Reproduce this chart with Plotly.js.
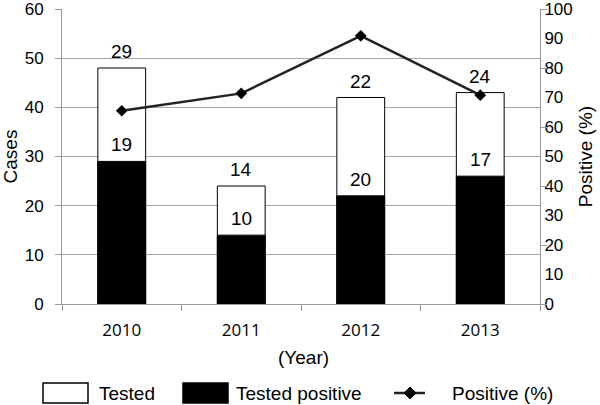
<!DOCTYPE html>
<html>
<head>
<meta charset="utf-8">
<script src="https://cdn.plot.ly/plotly-3.0.1.min.js"></script>
<style>html,body{margin:0;padding:0;background:#fff;}#chart{width:600px;height:405px;}</style>
</head>
<body>
<div id="chart"></div>
<script>
var years = ['2010', '2011', '2012', '2013'];
var tested = [48, 24, 42, 43];
var testedPositive = [29, 14, 22, 26];
var positivePct = [65.5, 71.4, 90.9, 70.8];
var upperLabels = ['29', '14', '22', '24'];
var lowerLabels = ['19', '10', '20', '17'];
var seriesNames = ['Tested', 'Tested positive', 'Positive (%)'];

var F = 'Liberation Sans, Arial, sans-serif';
var xpos = years.map(function (_, i) { return i; });

var M = {l: 62, r: 60, t: 9, b: 101};
var W = 600, H = 405;
var PW = W - M.l - M.r, PH = H - M.t - M.b;
function px(x) { return (x - M.l) / PW; }
function py(y) { return (H - M.b - y) / PH; }

var traces = [
  {type: 'bar', name: seriesNames[0], x: xpos, y: tested, width: 0.4,
   marker: {color: '#ffffff', line: {color: '#000000', width: 1}}, yaxis: 'y', showlegend: false},
  {type: 'bar', name: seriesNames[1], x: xpos, y: testedPositive, width: 0.4,
   marker: {color: '#000000', line: {color: '#000000', width: 1}}, yaxis: 'y', showlegend: false},
  {type: 'scatter', mode: 'lines+markers', name: seriesNames[2], x: xpos, y: positivePct,
   yaxis: 'y2', line: {color: '#222222', width: 2.5},
   marker: {symbol: 'diamond', size: 9, color: '#000000'}, showlegend: false},
  {type: 'scatter', x: [], y: [], yaxis: 'y3', showlegend: false, hoverinfo: 'skip'}
];

var annotations = [];
xpos.forEach(function (xv, i) {
  annotations.push({x: xv, y: tested[i], xref: 'x', yref: 'y', text: upperLabels[i],
    showarrow: false, yanchor: 'bottom', yshift: 4, font: {family: F, size: 19, color: '#000'}});
  annotations.push({x: xv, y: testedPositive[i], xref: 'x', yref: 'y', text: lowerLabels[i],
    showarrow: false, yanchor: 'bottom', yshift: 4, font: {family: F, size: 19, color: '#000'}});
});
annotations.push({x: px(303), y: py(357), xref: 'paper', yref: 'paper', yanchor: 'middle',
  text: '(Year)', showarrow: false, font: {family: F, size: 19, color: '#000'}});

// custom legend
var shapes = [
  {type: 'rect', xref: 'paper', yref: 'paper', x0: px(43), x1: px(88), y0: py(403), y1: py(383),
   fillcolor: '#fff', line: {color: '#000', width: 1.5}},
  {type: 'rect', xref: 'paper', yref: 'paper', x0: px(183), x1: px(228), y0: py(403), y1: py(383),
   fillcolor: '#000', line: {color: '#000', width: 1.5}},
  {type: 'line', xref: 'paper', yref: 'paper', x0: px(394), x1: px(425), y0: py(393), y1: py(393),
   line: {color: '#222', width: 2.5}},
  {type: 'path', xref: 'paper', yref: 'paper',
   path: 'M' + px(404) + ',' + py(393) + ' L' + px(410) + ',' + py(387) + ' L' + px(416) + ',' + py(393) +
         ' L' + px(410) + ',' + py(399) + ' Z', fillcolor: '#000', line: {color: '#000', width: 1}}
];
annotations.push({x: px(97), y: py(393), xref: 'paper', yref: 'paper', xanchor: 'left', yanchor: 'middle',
  text: seriesNames[0], showarrow: false, font: {family: F, size: 19, color: '#000'}});
annotations.push({x: px(234), y: py(393), xref: 'paper', yref: 'paper', xanchor: 'left', yanchor: 'middle',
  text: seriesNames[1], showarrow: false, font: {family: F, size: 19, color: '#000'}});
annotations.push({x: px(450), y: py(393), xref: 'paper', yref: 'paper', xanchor: 'left', yanchor: 'middle',
  text: seriesNames[2], showarrow: false, font: {family: F, size: 19, color: '#000'}});

var layout = {
  width: W, height: H,
  margin: M,
  paper_bgcolor: '#fff', plot_bgcolor: '#fff',
  barmode: 'overlay',
  font: {family: F, color: '#000'},
  xaxis: {range: [-0.5, 3.5], tickvals: xpos, ticktext: years, ticks: '',
    minor: {tick0: -0.5, dtick: 1, ticks: 'outside', ticklen: 6, tickcolor: '#999', showgrid: false},
    showline: true, linecolor: '#999', linewidth: 1, showgrid: false, zeroline: false,
    automargin: false, tickangle: 0, ticklabelstandoff: 11,
    tickfont: {family: 'Open Sans, sans-serif', size: 17, color: '#000'}},
  yaxis: {range: [0, 60], dtick: 10, ticks: 'outside', ticklen: 6, tickcolor: '#999',
    showline: true, linecolor: '#999', gridcolor: '#a6a6a6', zeroline: false, automargin: false,
    ticklabeloverflow: 'allow', ticklabelstandoff: 8,
    tickfont: {family: F, size: 17}, title: {text: 'Cases', font: {family: F, size: 19}, standoff: 4}},
  yaxis2: {range: [0, 100], dtick: 10, overlaying: 'y', side: 'right', ticks: '',
    showline: true, linecolor: '#999', showgrid: false, zeroline: false, automargin: false,
    ticklabeloverflow: 'allow',
    tickfont: {family: F, size: 17}, title: {text: 'Positive (%)', font: {family: F, size: 19}, standoff: 6}},
  yaxis3: {range: [0, 100], dtick: 20, overlaying: 'y', side: 'right', ticks: 'outside', ticklen: 6,
    tickcolor: '#999', showticklabels: false, showgrid: false, zeroline: false, showline: false,
    automargin: false},
  shapes: shapes,
  annotations: annotations,
  showlegend: false
};

Plotly.newPlot('chart', traces, layout, {displayModeBar: false, staticPlot: true});
</script>
</body>
</html>
